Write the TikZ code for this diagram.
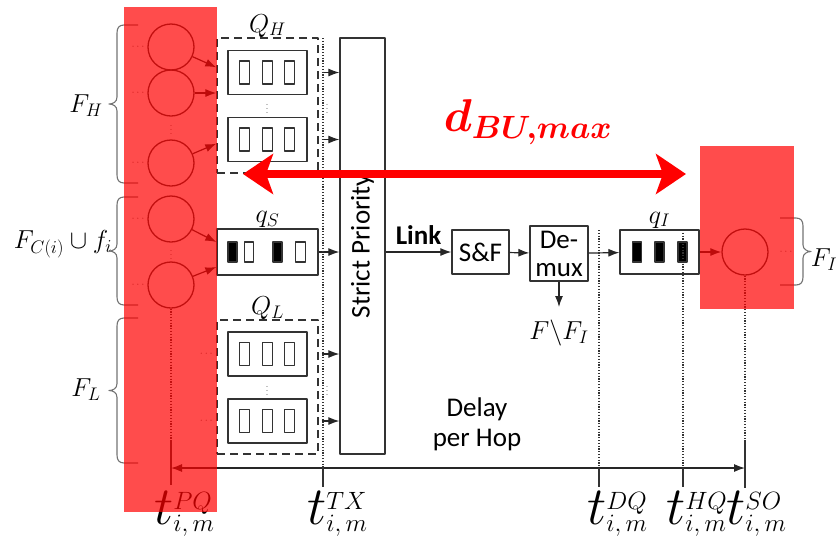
\RequirePackage{fix-cm}
\documentclass[tikz,border=0pt]{standalone}
\usepackage{fontspec}
\newfontfamily\carlito{Carlito}
\usetikzlibrary{arrows.meta,positioning}

\begin{document}
\begin{tikzpicture}[x=1pt, y=-1pt, line join=round,
    every node/.style={inner sep=2pt},
    box/.style={draw=black!80, line width=1.3pt, inner sep=0pt},
    qbox/.style={box, minimum width=79pt, minimum height=44pt},
    cell/.style={draw=black!80, line width=1.1pt, minimum width=10pt, minimum height=23pt, inner sep=0pt},
    full/.style={cell, fill=black, minimum width=9pt, minimum height=20pt},
    flow/.style={circle, draw=black!80, line width=1.3pt, minimum size=46pt, inner sep=0pt},
    grp/.style={draw=black!80, line width=1.3pt, dash pattern=on 8pt off 5pt, inner sep=0pt},
    arr/.style={draw=black!85, line width=1.2pt, -{Latex[length=11pt,width=8pt]}},
    twoarr/.style={draw=black!85, line width=1.2pt, {Latex[length=11pt,width=8pt]}-{Latex[length=11pt,width=8pt]}},
    bigarr/.style={draw=red, line width=8pt, {Stealth[length=30pt,width=40pt,inset=7pt]}-{Stealth[length=30pt,width=40pt,inset=7pt]}},
    dots/.style={draw=black!80, line width=1.1pt, dash pattern=on 1.2pt off 1.6pt},
    tk/.style={draw=black!80, line width=1.3pt},
    ddd/.style={font=\fontsize{11}{11}\selectfont, text=black!60, inner sep=0pt},
    mlab/.style={font=\fontsize{26}{30}\selectfont},
    tlab/.style={font=\fontsize{25}{25}\selectfont, anchor=base west},
    sans/.style={font=\carlito\fontsize{27}{30}\selectfont},
    dlab/.style={text=red, font=\fontsize{46}{50}\selectfont\boldmath},
    hl/.style={fill=red, opacity=0.7}
  ]
  \useasboundingbox (0,0) rectangle (839,539);

  % flows
  \node[flow] (c1) at (171,47) {};
  \node[flow] (c2) at (171,93) {};
  \node[flow] (c3) at (171,163) {};
  \node[flow] (c4) at (171,219) {};
  \node[flow] (c5) at (171,285) {};
  \node[flow] (c6) at (745,252) {};
  \foreach \c in {c1,c2,c3,c4,c5}
    \node[ddd] at ([xshift=-33pt]\c.center) {$\cdots$};
  \node[ddd] at ([xshift=41pt]c6.center) {$\cdots$};
  \node[ddd] at (171,127) {$\vdots$};
  \node[ddd] at (171,252) {$\vdots$};

  % braces
  \foreach \t/\b in {25/183, 197/305, 318/463} {
    \pgfmathsetmacro\m{(\t+\b)/2}
    \draw[black!55, line width=1.1pt] (138,\t) -- (124,\t)
      .. controls (119,\t) and (117,\t+3) .. (117,\t+8) -- (117,\m-7)
      .. controls (117,\m-2) and (113,\m) .. (109,\m)
      .. controls (113,\m) and (117,\m+2) .. (117,\m+7) -- (117,\b-8)
      .. controls (117,\b-3) and (119,\b) .. (124,\b) -- (138,\b);
  }
  \draw[black!55, line width=1.1pt] (780,218) -- (796,218)
    .. controls (801,218) and (803,221) .. (803,226) -- (803,245)
    .. controls (803,249) and (807,251.5) .. (811,251.5)
    .. controls (807,251.5) and (803,254) .. (803,258) -- (803,277)
    .. controls (803,282) and (801,285) .. (796,285) -- (780,285);
  \node[mlab] (lFH) at (86,106) {$F_H$};
  \node[mlab] (lFC) at (63,244) {$F_{C(i)}\cup f_i$};
  \node[mlab] (lFL) at (86,390) {$F_L$};
  \node[mlab] (lFI) at (824,260) {$F_I$};

  % queues
  \node[grp, minimum width=101pt, minimum height=135pt] (QH) at (267.5,105.5) {};
  \node[grp, minimum width=101pt, minimum height=134pt] (QL) at (267.5,387) {};
  \node[mlab, above=-2pt of QH] {$Q_H$};
  \node[mlab, above=-2pt of QL] {$Q_L$};
  \node[qbox] (qh1) at (267.5,72.5) {};
  \node[qbox] (qh2) at (267.5,139.5) {};
  \node[qbox] (ql1) at (267.5,354) {};
  \node[qbox] (ql2) at (267.5,421) {};
  \foreach \b in {qh1,qh2,ql1,ql2}
    \foreach \dx in {-23,0,22}
      \node[cell] at ([xshift=\dx pt]\b.center) {};
  \node[ddd] at (267,106) {$\vdots$};
  \node[ddd] at (267,388) {$\vdots$};
  \node[ddd] at ([xshift=-21pt]ql1.west) {$\cdots$};
  \node[ddd] at ([xshift=-21pt]ql2.west) {$\cdots$};

  \node[box, minimum width=101pt, minimum height=46pt] (qs) at (267.5,252) {};
  \node[mlab, above=-1pt of qs] {$q_S$};
  \node[full] at ([xshift=-35pt]qs.center) {};
  \node[cell, minimum width=9pt, minimum height=20pt] at ([xshift=-18.5pt]qs.center) {};
  \node[full] at ([xshift=10pt]qs.center) {};
  \node[cell, minimum width=10pt, minimum height=20pt] at ([xshift=33pt]qs.center) {};

  % scheduler and output port
  \node[box, minimum width=45pt, minimum height=416pt] (SP) at (362.5,246) {};
  \node[sans, rotate=90] at (SP.center) {Strict Priority};
  \node[box, sans, minimum width=57pt, minimum height=44pt] (SF) at (480.5,252) {S\&F};
  \node[box, sans, align=center, minimum width=58pt, minimum height=55pt] (DM) at (559,253.5) {De-\\[-2pt]mux};
  \node[box, minimum width=79pt, minimum height=44pt] (qI) at (659.5,252) {};
  \node[mlab, above=-1pt of qI] {$q_I$};
  \foreach \dx in {-22.5,0,23}
    \node[full] at ([xshift=\dx pt]qI.center) {};
  \node[mlab, anchor=north] (lFFI) at (559,318) {$F\backslash F_I$};
  \node[sans, align=center] (delay) at (477,424) {Delay\\per Hop};

  % connectors
  \draw[arr] (c1) -- ([yshift=-30pt]QH.north west);
  \draw[arr] (c2) -- (QH.west |- c2);
  \draw[arr] (c3) -- ([yshift=30pt]QH.south west);
  \draw[arr] (c4) -- ([yshift=10pt]qs.west);
  \draw[arr] (c5) -- ([yshift=-15pt]qs.west);
  \foreach \b in {qh1,qh2,ql1,ql2}
    \draw[arr] ([xshift=3pt]\b.east -| QH.east) -- (SP.west |- \b.east);
  \draw[arr] (qs.east) -- (SP.west |- qs.east);
  \node[ddd] at (327,106) {$\vdots$};
  \node[ddd] at (327,388) {$\vdots$};
  \draw[arr] (SP.east |- SF.west) -- (SF.west)
    node[midway, above=5pt, font=\carlito\bfseries\fontsize{27}{30}\selectfont] {Link};
  \draw[arr] (SF) -- (DM);
  \draw[arr] (DM) -- (qI);
  \draw[arr] (qI) -- (c6);
  \draw[arr, shorten >=11pt] (DM.south) -- (lFFI.north);

  % time axis
  \coordinate (pPQ) at (171,468);
  \coordinate (pSO) at (745,468);
  \draw[twoarr] (pPQ) -- (pSO);
  \draw[dots] (c5.south) -- (171,440);
  \draw[tk] (171,440) -- (171,485);
  \draw[dots] (c6.south) -- (745,440);
  \draw[tk] (745,440) -- (745,488);
  \foreach \x/\y in {323/38, 599/230, 683/230} {
    \draw[dots] (\x,\y) -- (\x,468);
    \draw[tk] (\x,468) -- (\x,487);
  }
  \foreach \s/\x in {PQ/152, TX/305, DQ/585, HQ/664, SO/724}
    \node[tlab] (l\s) at (\x,524)
      {{\fontsize{54}{54}\selectfont$t$}\rlap{\raisebox{15pt}{$\s$}}\raisebox{-7pt}{$i,m$}};

  % highlights
  \fill[hl] (124,7) rectangle (217,512);
  \fill[hl] (700,146) rectangle (794,309);
  \coordinate (rL) at (243,174);
  \coordinate (rR) at (686,174);
  \draw[bigarr] (rL) -- (rR);
  \node[dlab] (dBU) at (528,122) {$d_{BU,max}$};
\end{tikzpicture}
\end{document}
